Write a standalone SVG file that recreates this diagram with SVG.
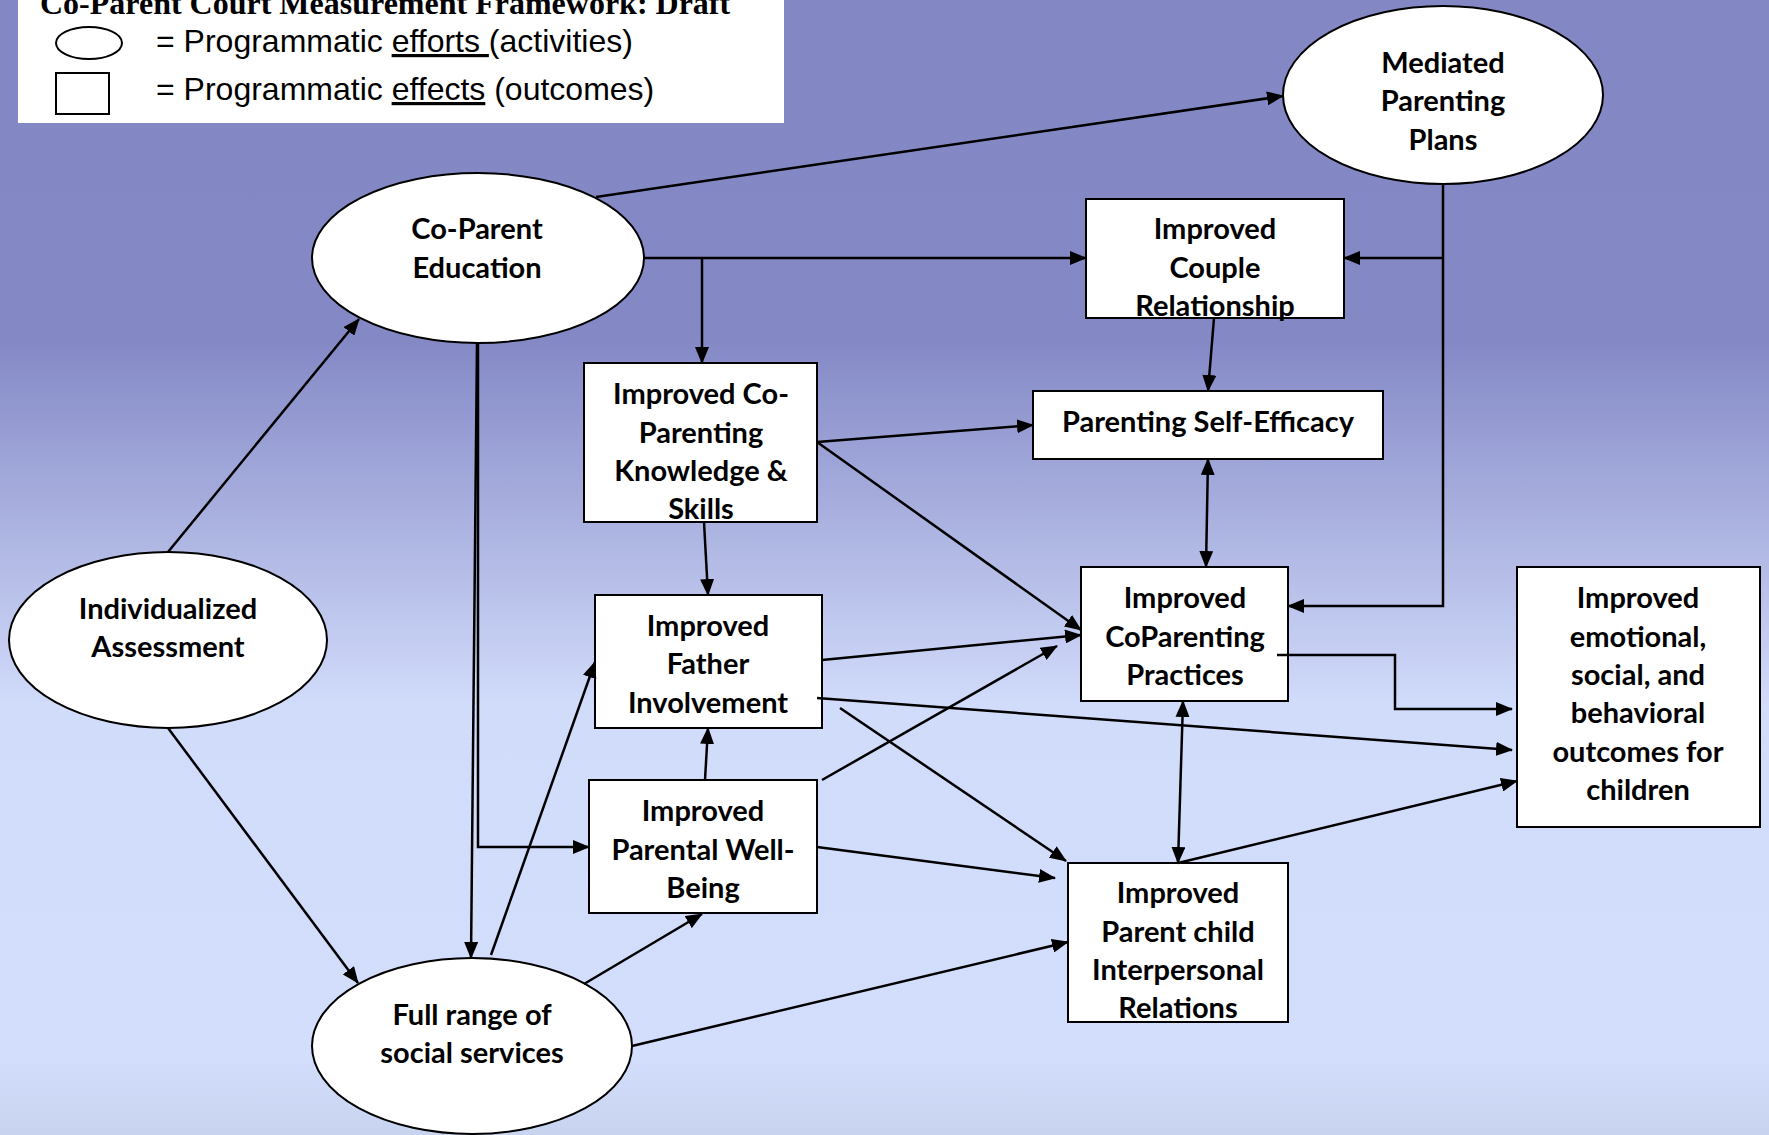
<svg xmlns="http://www.w3.org/2000/svg" width="1769" height="1135" viewBox="0 0 1769 1135">
<defs>
<linearGradient id="bg" x1="0" y1="0" x2="0" y2="1">
<stop offset="0" stop-color="#8388C5"/>
<stop offset="0.30" stop-color="#8489C6"/>
<stop offset="0.62" stop-color="#D1DBFA"/>
<stop offset="0.93" stop-color="#D3DEFC"/>
<stop offset="1" stop-color="#C8D3F0"/>
</linearGradient>
<marker id="ah" markerUnits="userSpaceOnUse" markerWidth="17" markerHeight="14" refX="16" refY="7" orient="auto-start-reverse">
<path d="M0,0 L17,7 L0,14 z" fill="#000"/>
</marker>
<style>
.n{fill:#fff;stroke:#000;stroke-width:2}
.t{font-family:Lato,"Open Sans",sans-serif;font-weight:700;font-size:29px;fill:#000;text-anchor:middle}
.c{fill:none;stroke:#000;stroke-width:2.5;marker-end:url(#ah)}
.d{marker-start:url(#ah)}
.lg{font-family:"Liberation Sans",Arial,sans-serif;font-size:32px;fill:#000}
</style>
</defs>
<rect x="0" y="0" width="1769" height="1135" fill="url(#bg)"/>

<g id="legend">
<rect x="18" y="0" width="766" height="123" fill="#fff"/>
<text x="40" y="14" font-family="'Liberation Serif','Times New Roman',serif" font-weight="700" font-size="32">Co-Parent Court Measurement Framework: Draft</text>
<ellipse cx="89" cy="43" rx="33" ry="16" fill="#fff" stroke="#000" stroke-width="2"/>
<rect x="56" y="73" width="53" height="41" fill="#fff" stroke="#000" stroke-width="2"/>
<text class="lg" x="156" y="52">= Programmatic <tspan text-decoration="underline">efforts </tspan>(activities)</text>
<text class="lg" x="156" y="100">= Programmatic <tspan text-decoration="underline">effects</tspan> (outcomes)</text>
</g>

<g id="mediated-parenting-plans">
<ellipse class="n" cx="1443" cy="95" rx="160" ry="89"/>
<text class="t" x="1443" y="73">Mediated</text>
<text class="t" x="1443" y="111">Parenting</text>
<text class="t" x="1443" y="150">Plans</text>
</g>

<g id="co-parent-education">
<ellipse class="n" cx="478" cy="258" rx="166" ry="85"/>
<text class="t" x="477" y="239">Co-Parent</text>
<text class="t" x="477" y="278">Education</text>
</g>

<g id="individualized-assessment">
<ellipse class="n" cx="168" cy="640" rx="159" ry="88"/>
<text class="t" x="168" y="619">Individualized</text>
<text class="t" x="168" y="657">Assessment</text>
</g>

<g id="full-range-social-services">
<ellipse class="n" cx="472" cy="1046" rx="160" ry="88"/>
<text class="t" x="472" y="1025">Full range of</text>
<text class="t" x="472" y="1063">social services</text>
</g>

<g id="improved-couple-relationship">
<rect class="n" x="1086" y="199" width="258" height="119"/>
<text class="t" x="1215" y="239">Improved</text>
<text class="t" x="1215" y="278">Couple</text>
<text class="t" x="1215" y="316">Relationship</text>
</g>

<g id="parenting-self-efficacy">
<rect class="n" x="1033" y="391" width="350" height="68"/>
<text class="t" x="1208" y="432">Parenting Self-Efficacy</text>
</g>

<g id="improved-coparenting-knowledge">
<rect class="n" x="584" y="363" width="233" height="159"/>
<text class="t" x="701" y="404">Improved Co-</text>
<text class="t" x="701" y="443">Parenting</text>
<text class="t" x="701" y="481">Knowledge &amp;</text>
<text class="t" x="701" y="519">Skills</text>
</g>

<g id="improved-father-involvement">
<rect class="n" x="595" y="595" width="227" height="133"/>
<text class="t" x="708" y="636">Improved</text>
<text class="t" x="708" y="674">Father</text>
<text class="t" x="708" y="713">Involvement</text>
</g>

<g id="improved-parental-well-being">
<rect class="n" x="589" y="780" width="228" height="133"/>
<text class="t" x="703" y="821">Improved</text>
<text class="t" x="703" y="860">Parental Well-</text>
<text class="t" x="703" y="898">Being</text>
</g>

<g id="improved-coparenting-practices">
<rect class="n" x="1081" y="567" width="207" height="134"/>
<text class="t" x="1185" y="608">Improved</text>
<text class="t" x="1185" y="647">CoParenting</text>
<text class="t" x="1185" y="685">Practices</text>
</g>

<g id="improved-parent-child-relations">
<rect class="n" x="1068" y="863" width="220" height="159"/>
<text class="t" x="1178" y="903">Improved</text>
<text class="t" x="1178" y="942">Parent child</text>
<text class="t" x="1178" y="980">Interpersonal</text>
<text class="t" x="1178" y="1018">Relations</text>
</g>

<g id="improved-child-outcomes">
<rect class="n" x="1517" y="567" width="243" height="260"/>
<text class="t" x="1638" y="608">Improved</text>
<text class="t" x="1638" y="647">emotional,</text>
<text class="t" x="1638" y="685">social, and</text>
<text class="t" x="1638" y="723">behavioral</text>
<text class="t" x="1638" y="762">outcomes for</text>
<text class="t" x="1638" y="800">children</text>
</g>

<g id="connectors">
<path class="c" d="M596,197 L1283,96"/>
<path class="c" d="M644,258 L1086,258"/>
<path class="c" d="M702,258 L702,363"/>
<path class="c" d="M1443,184 L1443,606 L1288,606"/>
<path class="c" d="M1443,258 L1344,258"/>
<path class="c" d="M1214,318 L1208,391"/>
<path class="c" d="M817,442 L1033,425"/>
<path class="c" d="M817,442 L1081,630"/>
<path class="c" d="M704,522 L708,595"/>
<path class="c d" d="M1208,459 L1206,567"/>
<path class="c" d="M822,660 L1081,635"/>
<path class="c" d="M817,698 L1512,750"/>
<path class="c" d="M840,708 L1066,861"/>
<path class="c" d="M705,780 L708,728"/>
<path class="c" d="M822,780 L1057,646"/>
<path class="c" d="M817,847 L1055,878"/>
<path class="c d" d="M1183,701 L1178,863"/>
<path class="c" d="M1277,655 L1395,655 L1395,709 L1512,709"/>
<path class="c" d="M1178,863 L1517,781"/>
<path class="c" d="M632,1046 L1068,942"/>
<path class="c" d="M584,984 L702,914"/>
<path class="c" d="M491,955 L595,662"/>
<path class="c" d="M478,343 L478,847 L589,847"/>
<path class="c" d="M477,343 L471,958"/>
<path class="c" d="M168,552 L359,319"/>
<path class="c" d="M168,728 L358,983"/>
</g>
</svg>
